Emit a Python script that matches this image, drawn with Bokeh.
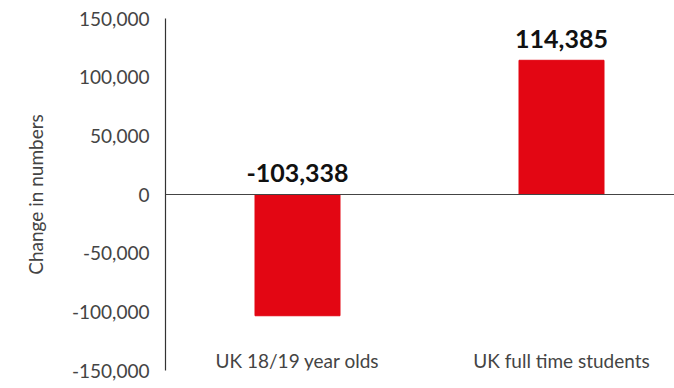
from bokeh.plotting import figure
from bokeh.models import Range1d, Span, FixedTicker, NumeralTickFormatter, ColumnDataSource
from bokeh.core.properties import value
from bokeh.embed import file_html
from bokeh.resources import INLINE

categories = ["UK 18/19 year olds", "UK full time students"]
changes = [-103338, 114385]
y_ticks = [-150000, -100000, -50000, 0, 50000, 100000, 150000]

xs = [i + 0.5 for i in range(len(categories))]
labels = ["{:,}".format(v) for v in changes]
label_y = [max(v, 0) + 18000 for v in changes]

src = ColumnDataSource(dict(x=xs, top=changes, cat=categories, lab=labels, ly=label_y,
                            cy=[-141500] * len(categories)))

p = figure(width=674, height=388, output_backend="svg", toolbar_location=None,
           x_range=Range1d(0, 509 / 264), y_range=Range1d(-150000, 150000),
           min_border_left=165, min_border_right=0, min_border_top=18, min_border_bottom=18)

p.vbar(x="x", top="top", bottom=0, width=85 / 264, color="#e30613", source=src)

p.add_layout(Span(location=0, dimension="width", line_color="#444444", line_width=1.2))

p.text(x="x", y="ly", text="lab", source=src, text_align="center", text_baseline="middle",
       text_font=value("Lato"), text_font_size="25px", text_font_style="bold", text_color="#111111")
p.text(x="x", y="cy", text="cat", source=src, text_align="center", text_baseline="middle",
       text_font=value("Lato"), text_font_size="19px", text_color="#444444")

p.xaxis.visible = False
p.xgrid.visible = False
p.ygrid.visible = False
p.outline_line_color = None

ya = p.yaxis[0]
ya.ticker = FixedTicker(ticks=y_ticks)
ya.formatter = NumeralTickFormatter(format="0,0")
ya.major_tick_line_color = None
ya.minor_tick_line_color = None
ya.major_tick_out = 0
ya.major_tick_in = 0
ya.major_label_standoff = 16
ya.axis_line_color = "#333333"
ya.axis_line_width = 1.2
ya.major_label_text_font = "Lato"
ya.major_label_text_font_size = "19px"
ya.major_label_text_color = "#444444"
ya.axis_label = "Change in numbers"
ya.axis_label_text_font = "Lato"
ya.axis_label_text_font_size = "19px"
ya.axis_label_text_font_style = "normal"
ya.axis_label_text_color = "#444444"
ya.axis_label_standoff = 22

open("out.html", "w").write(file_html(p, INLINE))
